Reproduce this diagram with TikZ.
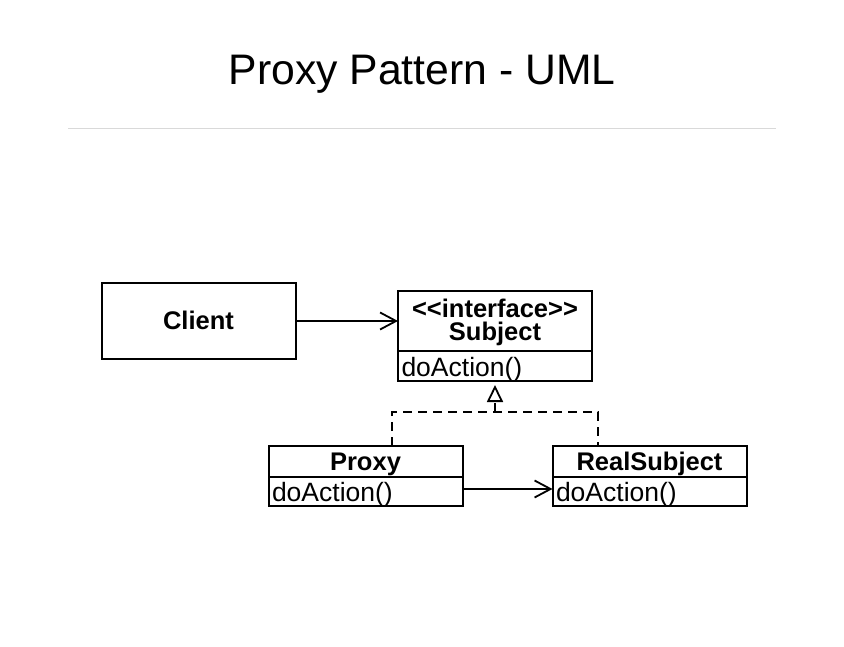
\documentclass[tikz,border=0pt]{standalone}
\usepackage{fontspec}
\setmainfont{Liberation Sans}
\usetikzlibrary{arrows.meta,positioning}

\begin{document}
\begin{tikzpicture}[x=1pt,y=-1pt,
  namebox/.style={draw=black,line width=2pt,minimum width=194pt,inner sep=0pt,outer sep=0pt,
    text height=18pt,text depth=0pt,font=\fontsize{25.5}{24}\selectfont\bfseries,align=center},
  opsbox/.style={draw=black,line width=2pt,minimum width=194pt,minimum height=29pt,
    inner sep=0pt,outer sep=0pt,text width=187pt,text height=20pt,text depth=0pt,
    align=left,font=\fontsize{26.5}{24}\selectfont},
  uses/.style={line width=1.8pt,-{Straight Barb[length=16pt,width=17pt]}},
  realizes/.style={line width=1.8pt,dash pattern=on 9pt off 6pt}]

\useasboundingbox (0,0) rectangle (844,647);

%title and the rule under it
\node[anchor=base,font=\fontsize{42.7}{50}\selectfont] (title) at (422,85) {Proxy Pattern - UML};
\draw[gray!30,line width=1pt] (68,129) -- (776,129);

%client and the interface
\node[namebox,minimum height=76pt] (client) at (198.5,321) {Client};
\node[namebox,minimum height=60pt,text height=40pt] (subject) at (495,321) {<\kern0pt<interface>\kern0pt>\\Subject};
\node[opsbox,minimum height=30pt,below=0pt of subject] (subjectops) {doAction()};

%the two classes below
\node[namebox,minimum height=31pt] (proxy) at (365.5,461.5) {Proxy};
\node[opsbox,below=0pt of proxy] (proxyops) {doAction()};
\node[namebox,minimum height=31pt] (real) at (649.5,461.5) {RealSubject};
\node[opsbox,below=0pt of real] (realops) {doAction()};

%associations
\draw[uses] (client) -- (subject);
\draw[uses] ([yshift=2.5pt]proxyops.east) -- ([yshift=2.5pt]realops.west);

%realization, dashed with a hollow head
\coordinate (join) at (495,412);
\draw[realizes] ([xshift=26.5pt]proxy.north) |- (join) -| ([xshift=-51.5pt]real.north);
\draw[realizes,-{Triangle[open,length=17pt,width=16pt,fill=white]},shorten >=4pt] (join) -- (subjectops.south);

\end{tikzpicture}
\end{document}
